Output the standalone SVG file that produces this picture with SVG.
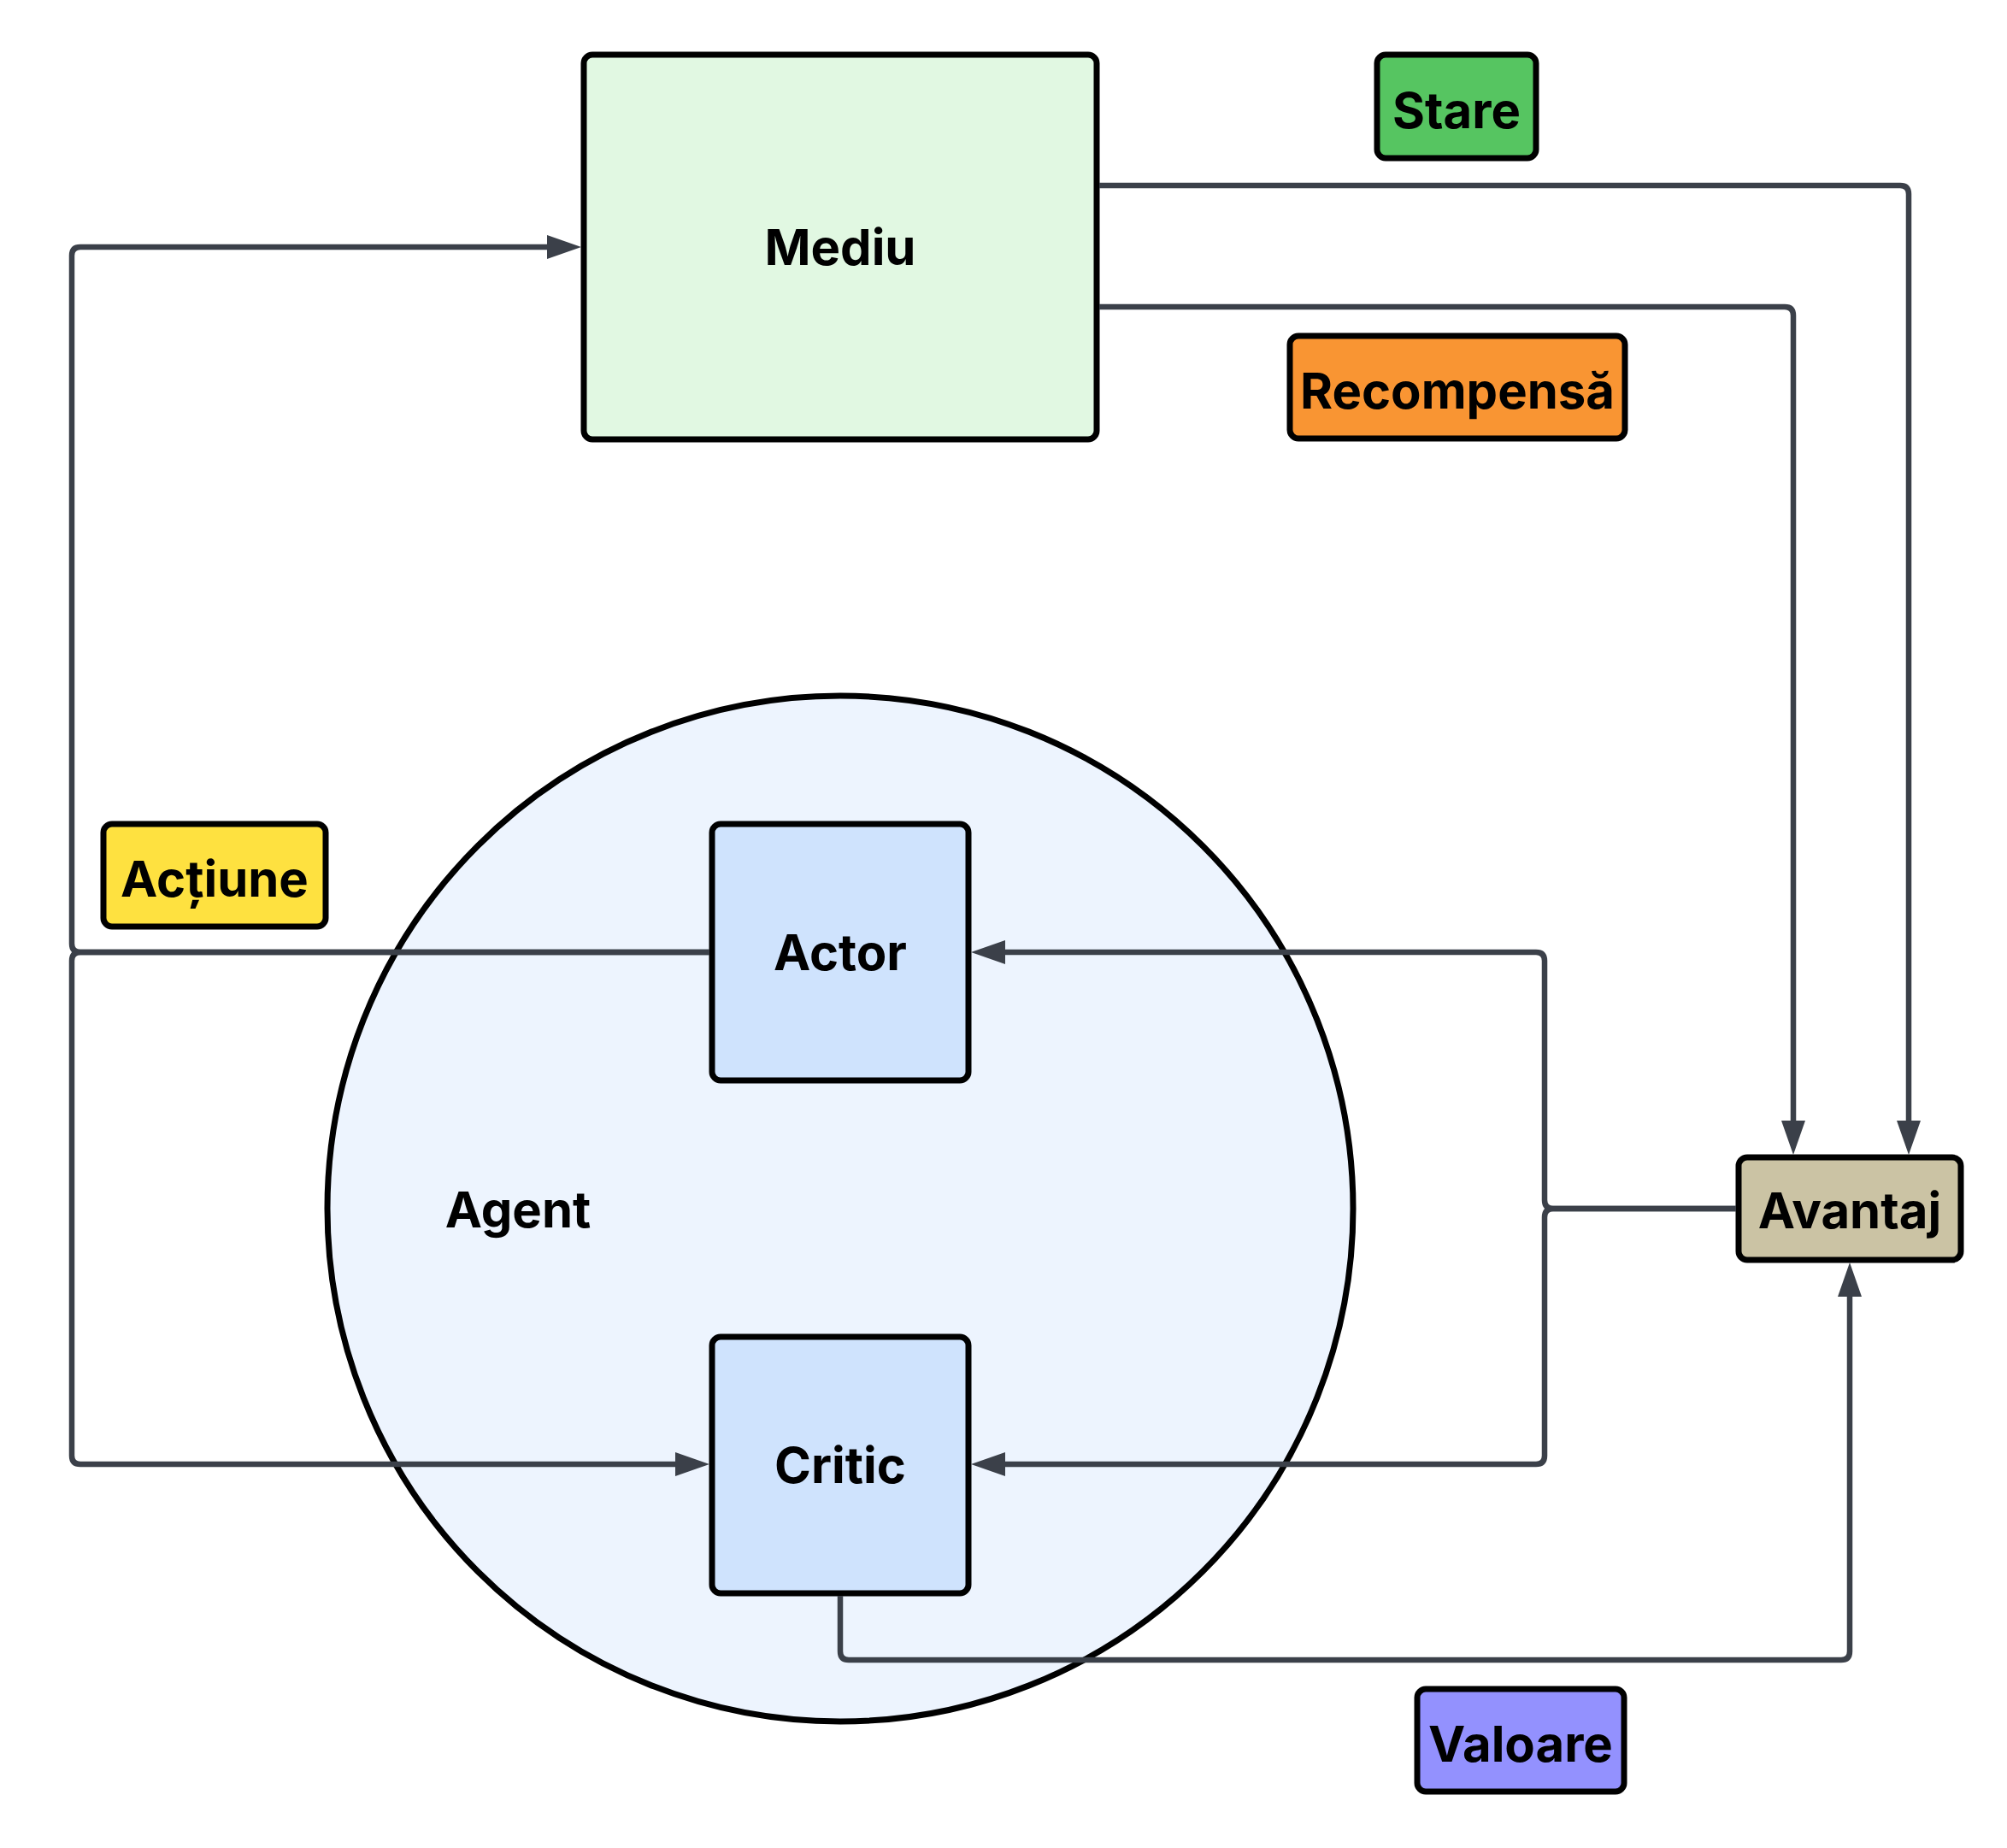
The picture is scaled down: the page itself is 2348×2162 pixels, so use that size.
<svg xmlns="http://www.w3.org/2000/svg" width="2348" height="2162" viewBox="0 0 2348 2162">
<style>
.n{stroke:#000;stroke-width:7}
.t{font-family:Inter,"Liberation Sans",sans-serif;font-weight:700;font-size:58px;fill:#000;text-anchor:middle;dominant-baseline:central}
.c{fill:none;stroke:#3b4049;stroke-width:6.5}
</style>
<defs>
<marker id="ah" markerUnits="userSpaceOnUse" viewBox="0 0 40 28" markerWidth="40" markerHeight="28" refX="29" refY="14" orient="auto"><path d="M0,0 L40,14 L0,28 Z" fill="#3b4049"/></marker>
</defs>
<rect width="2348" height="2162" fill="#fff"/>
<g id="agent"><circle class="n" cx="983" cy="1414" r="600" fill="#edf4fe"/><text class="t" x="606" y="1415">Agent</text></g>
<g id="mediu"><rect class="n" x="683" y="64" width="600" height="450" rx="10" fill="#e1f8e2"/><text class="t" x="983" y="289">Mediu</text></g>
<g id="stare"><rect class="n" x="1611" y="64" width="186" height="121" rx="10" fill="#56c561"/><text class="t" x="1704" y="129">Stare</text></g>
<g id="recompensa"><rect class="n" x="1509" y="393" width="392" height="120" rx="10" fill="#f99533"/><text class="t" x="1705" y="457">Recompensă</text></g>
<g id="actiune"><rect class="n" x="121" y="964" width="260" height="120" rx="10" fill="#fee140"/><text class="t" x="251" y="1028">Acțiune</text></g>
<g id="actor"><rect class="n" x="833" y="964" width="300" height="300" rx="10" fill="#cfe3fd"/><text class="t" x="983" y="1114">Actor</text></g>
<g id="critic"><rect class="n" x="833" y="1564" width="300" height="300" rx="10" fill="#cfe3fd"/><text class="t" x="983" y="1714">Critic</text></g>
<g id="avantaj"><rect class="n" x="2034" y="1354" width="260" height="120" rx="10" fill="#cbc3a4"/><text class="t" x="2164" y="1416">Avantaj</text></g>
<g id="valoare"><rect class="n" x="1658" y="1976" width="242" height="120" rx="10" fill="#9391fe"/><text class="t" x="1779" y="2040">Valoare</text></g>
<g id="connectors">
<path class="c" marker-end="url(#ah)" d="M1286,217 H2223 Q2233,217 2233,227 V1340"/>
<path class="c" marker-end="url(#ah)" d="M1286,359 H2088 Q2098,359 2098,369 V1340"/>
<path class="c" marker-end="url(#ah)" d="M830,1114 H94 Q84,1114 84,1104 V299 Q84,289 94,289 H669"/>
<path class="c" marker-end="url(#ah)" d="M830,1114 H94 Q84,1114 84,1124 V1703 Q84,1713 94,1713 H819"/>
<path class="c" marker-end="url(#ah)" d="M2031,1414 H1817 Q1807,1414 1807,1404 V1124 Q1807,1114 1797,1114 H1147"/>
<path class="c" marker-end="url(#ah)" d="M2031,1414 H1817 Q1807,1414 1807,1424 V1703 Q1807,1713 1797,1713 H1147"/>
<path class="c" marker-end="url(#ah)" d="M983,1867 V1932 Q983,1942 993,1942 H2154 Q2164,1942 2164,1932 V1488"/>
</g>
</svg>
